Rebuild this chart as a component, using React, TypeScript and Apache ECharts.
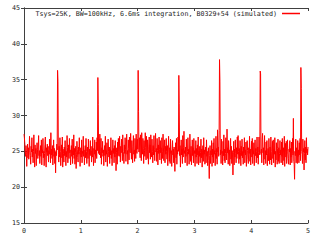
import React, { useEffect, useRef } from "react";
import * as echarts from "echarts";

const SERIES_NAME = "Tsys=25K, BW=100kHz, 6.6ms integration, B0329+54 (simulated)";
const DURATION = 5;
const X_TICKS = [0, 1, 2, 3, 4, 5];
const Y_MIN = 15;
const Y_MAX = 45;

// Measured signal (K), evenly sampled over 0..5 s
const signal: number[] = [
  27.4, 26.9, 26.1, 25.0, 24.3, 25.8, 24.6, 22.9, 25.2, 26.0, 24.1, 25.5, 23.9, 24.8, 27.1, 25.1, 24.4, 23.2, 25.7, 24.9, 26.9, 24.2, 25.3, 23.4,
  25.0, 27.3, 24.5, 22.8, 25.9, 24.7, 25.4, 23.0, 24.9, 26.2, 25.3, 24.0, 25.6, 27.2, 24.4, 25.1, 23.3, 24.6, 25.8, 24.3, 26.6, 23.1, 25.2, 24.8,
  26.8, 24.1, 25.0, 23.0, 24.7, 25.9, 27.0, 24.2, 22.8, 25.5, 24.9, 26.0, 24.4, 25.7, 23.5, 25.1, 24.6, 26.7, 25.2, 23.4, 27.6, 24.5, 25.3, 24.0,
  25.8, 23.1, 24.7, 26.6, 24.3, 25.4, 23.3, 24.9, 22.0, 25.1, 24.4, 26.0, 25.2, 36.3, 34.7, 24.6, 23.5, 25.7, 24.2, 26.9, 25.0, 23.0, 24.8, 25.9,
  24.1, 27.0, 22.8, 25.3, 24.7, 23.5, 25.6, 24.4, 26.5, 24.9, 23.0, 25.0, 24.2, 27.2, 25.5, 23.4, 24.6, 25.9, 24.0, 26.8, 24.8, 25.2, 23.1, 24.7,
  25.8, 24.3, 26.7, 23.3, 25.1, 24.5, 27.3, 24.0, 25.4, 23.2, 24.8, 25.7, 22.6, 24.5, 26.4, 25.3, 24.1, 23.5, 25.6, 24.6, 26.9, 25.0, 22.9, 24.9,
  25.5, 24.2, 26.6, 23.4, 25.0, 24.7, 27.1, 24.3, 25.2, 23.1, 24.9, 25.8, 24.1, 26.8, 25.0, 23.3, 24.5, 25.6, 24.0, 26.7, 24.8, 22.9, 25.3, 24.6,
  26.5, 24.4, 25.1, 23.5, 25.7, 24.2, 27.0, 24.8, 23.0, 25.4, 24.6, 26.6, 23.4, 25.2, 24.3, 26.3, 24.0, 26.9, 25.1, 35.3, 31.5, 24.7, 26.7, 24.5,
  27.4, 25.0, 24.1, 26.8, 23.2, 25.5, 24.8, 26.4, 24.3, 25.2, 23.0, 24.9, 25.8, 24.4, 27.1, 23.5, 25.1, 24.6, 26.2, 22.9, 24.8, 26.7, 25.0, 24.2,
  25.6, 23.3, 25.3, 24.5, 26.9, 24.0, 25.1, 23.0, 24.9, 26.6, 24.7, 25.4, 23.4, 25.8, 24.2, 26.5, 24.6, 22.3, 24.8, 25.5, 23.2, 26.3, 24.4, 26.8,
  25.0, 24.3, 27.1, 25.2, 23.5, 25.7, 24.8, 26.7, 25.4, 23.7, 27.3, 25.0, 24.5, 23.3, 25.9, 24.7, 26.9, 25.3, 23.6, 25.6, 27.4, 24.6, 25.1, 23.2,
  26.6, 25.4, 23.8, 27.0, 25.0, 24.8, 27.5, 25.5, 23.9, 26.5, 24.9, 23.4, 25.7, 27.2, 24.6, 25.2, 23.6, 26.8, 25.6, 24.0, 27.4, 25.1, 24.7, 26.7,
  25.3, 36.3, 30.6, 24.9, 26.9, 25.2, 24.1, 27.3, 25.6, 23.7, 27.6, 25.0, 24.6, 26.8, 25.4, 23.3, 26.5, 25.1, 24.3, 27.6, 25.5, 23.8, 27.1, 25.0,
  24.0, 26.6, 25.7, 23.2, 25.3, 27.0, 24.8, 25.9, 23.9, 27.3, 25.2, 24.2, 26.7, 25.0, 23.4, 25.8, 24.5, 27.2, 25.3, 23.7, 25.6, 27.5, 24.9, 25.4,
  23.6, 26.8, 25.1, 23.1, 25.9, 24.7, 27.0, 25.3, 23.8, 26.5, 24.8, 25.5, 23.3, 26.9, 25.0, 24.0, 27.4, 25.6, 23.7, 25.2, 26.6, 23.4, 25.7, 24.6,
  26.8, 25.0, 23.9, 25.8, 23.0, 24.9, 27.1, 25.2, 23.6, 25.5, 23.3, 26.7, 24.7, 25.1, 22.9, 24.8, 26.5, 24.5, 25.3, 23.4, 25.6, 24.2, 22.2, 24.9,
  26.2, 24.1, 26.8, 23.2, 25.2, 24.6, 27.0, 25.0, 35.6, 31.7, 24.4, 25.8, 22.8, 24.9, 26.6, 24.5, 25.3, 23.3, 27.2, 24.2, 25.5, 27.8, 24.7, 25.1,
  23.4, 25.6, 24.3, 26.7, 24.8, 23.0, 25.0, 26.9, 24.6, 25.3, 23.2, 24.9, 27.4, 25.2, 23.6, 25.7, 23.1, 24.8, 26.6, 24.4, 25.5, 23.4, 26.8, 24.7,
  25.1, 22.9, 24.6, 26.5, 24.2, 25.4, 23.3, 25.9, 24.5, 27.0, 23.1, 25.0, 24.3, 25.7, 23.4, 24.8, 26.7, 24.1, 25.3, 22.8, 24.9, 25.8, 23.6, 26.9,
  24.6, 25.2, 23.2, 24.8, 25.6, 23.4, 26.6, 24.3, 25.0, 23.0, 24.7, 25.5, 23.7, 21.2, 24.4, 25.8, 23.3, 25.1, 24.5, 26.5, 22.9, 25.3, 24.2, 26.2,
  23.4, 26.8, 24.6, 25.1, 23.0, 24.8, 27.1, 24.0, 25.4, 23.2, 28.0, 24.9, 25.6, 24.3, 27.9, 37.8, 34.8, 24.5, 25.2, 23.3, 26.7, 24.7, 25.0, 23.1,
  26.4, 24.4, 27.3, 23.7, 25.3, 23.4, 24.7, 26.9, 25.0, 23.8, 28.1, 24.8, 25.5, 23.2, 26.5, 24.6, 25.2, 23.0, 24.9, 26.8, 23.9, 25.7, 23.3, 25.1,
  24.5, 21.7, 24.8, 26.4, 23.1, 25.3, 24.2, 26.6, 24.7, 23.4, 25.5, 24.0, 27.0, 24.6, 27.2, 25.0, 23.3, 25.4, 23.9, 26.5, 24.9, 23.0, 25.7, 24.4,
  26.7, 24.1, 25.0, 23.2, 25.6, 24.8, 26.9, 23.4, 25.2, 24.5, 26.3, 22.9, 24.6, 26.5, 25.1, 23.9, 23.3, 25.5, 24.7, 27.1, 23.6, 25.3, 23.1, 24.9,
  26.4, 24.2, 26.8, 23.3, 25.1, 24.6, 26.2, 23.0, 24.9, 26.6, 24.4, 25.4, 23.4, 25.0, 27.0, 24.1, 25.6, 23.2, 24.8, 27.0, 25.2, 24.5, 36.2, 35.8,
  24.7, 25.3, 23.4, 26.7, 27.5, 24.8, 25.5, 23.1, 24.9, 27.2, 23.9, 25.1, 23.3, 26.3, 24.5, 26.5, 23.0, 24.7, 25.4, 23.7, 26.8, 24.9, 23.2, 25.6,
  23.8, 27.0, 25.0, 23.1, 24.8, 26.4, 24.0, 26.6, 23.4, 25.3, 24.6, 26.9, 22.8, 25.0, 23.8, 26.2, 24.9, 23.2, 25.4, 26.7, 23.6, 25.5, 23.3, 24.7,
  26.5, 24.5, 25.2, 23.4, 26.3, 24.3, 26.8, 23.1, 24.9, 25.5, 23.7, 27.1, 22.9, 24.8, 26.1, 24.2, 26.4, 23.3, 24.6, 26.6, 25.0, 24.0, 23.2, 25.3,
  24.9, 26.5, 23.1, 25.4, 24.2, 26.3, 23.4, 24.7, 26.8, 24.5, 29.6, 23.6, 23.2, 21.1, 25.0, 24.4, 26.7, 23.4, 25.5, 24.6, 23.3, 26.5, 24.3, 25.2,
  23.4, 26.2, 24.5, 26.8, 23.7, 36.7, 33.8, 25.0, 24.6, 23.3, 26.7, 24.9, 25.4, 22.4, 24.7, 26.5, 23.8, 25.6, 23.4, 26.9, 24.8, 25.3, 24.5, 25.6,
];

const FONT = "'DejaVu Sans Mono', monospace";
const AXIS_COLOR = "#404040";
const TEXT_COLOR = "#222";

export default function App() {
  const ref = useRef<HTMLDivElement>(null);
  useEffect(() => {
    if (!ref.current) return;
    const chart = echarts.init(ref.current, undefined, { renderer: "svg" });
    const dt = DURATION / (signal.length - 1);
    const data = signal.map((v, i) => [i * dt, v]);
    const baseX = {
      type: "value" as const,
      min: X_TICKS[0],
      max: X_TICKS[X_TICKS.length - 1],
      interval: 1,
      splitLine: { show: false },
      axisLine: { show: true, lineStyle: { color: AXIS_COLOR, width: 1 } },
      axisTick: { show: true, inside: true, length: 3, lineStyle: { color: AXIS_COLOR } },
    };
    const baseY = {
      type: "value" as const,
      min: Y_MIN,
      max: Y_MAX,
      interval: 5,
      splitLine: { show: false },
      axisLine: { show: true, lineStyle: { color: AXIS_COLOR, width: 1 } },
      axisTick: { show: true, inside: true, length: 3, lineStyle: { color: AXIS_COLOR } },
    };
    chart.setOption({
      animation: false,
      backgroundColor: "#fff",
      grid: { left: 24, right: 12, top: 8, bottom: 17, containLabel: false, outerBoundsMode: "none" },
      legend: {
        show: true,
        right: 20,
        top: 10,
        padding: 0,
        align: "right",
        itemWidth: 18,
        itemHeight: 1.5,
        itemGap: 4,
        icon: "rect",
        textStyle: { fontFamily: FONT, fontSize: 6.7, color: TEXT_COLOR, padding: [0, 0, 0, 0] },
        data: [{ name: SERIES_NAME, icon: "rect" }],
      },
      xAxis: [
        {
          ...baseX,
          position: "bottom",
          axisLabel: { show: true, margin: 4, fontFamily: FONT, fontSize: 6.7, color: TEXT_COLOR },
        },
        { ...baseX, position: "top", axisLabel: { show: false } },
      ],
      yAxis: [
        {
          ...baseY,
          position: "left",
          axisLabel: { show: true, margin: 4, fontFamily: FONT, fontSize: 6.7, color: TEXT_COLOR },
        },
        { ...baseY, position: "right", axisLabel: { show: false } },
      ],
      series: [
        {
          name: SERIES_NAME,
          type: "line",
          xAxisIndex: 0,
          yAxisIndex: 0,
          data,
          symbol: "none",
          showSymbol: false,
          lineStyle: { color: "#ff0000", width: 1 },
          itemStyle: { color: "#ff0000" },
        },
      ],
    });
    return () => chart.dispose();
  }, []);
  return (
    <div
      ref={ref}
      style={{ position: "fixed", left: 0, top: 0, width: 320, height: 240, background: "#fff" }}
    />
  );
}
